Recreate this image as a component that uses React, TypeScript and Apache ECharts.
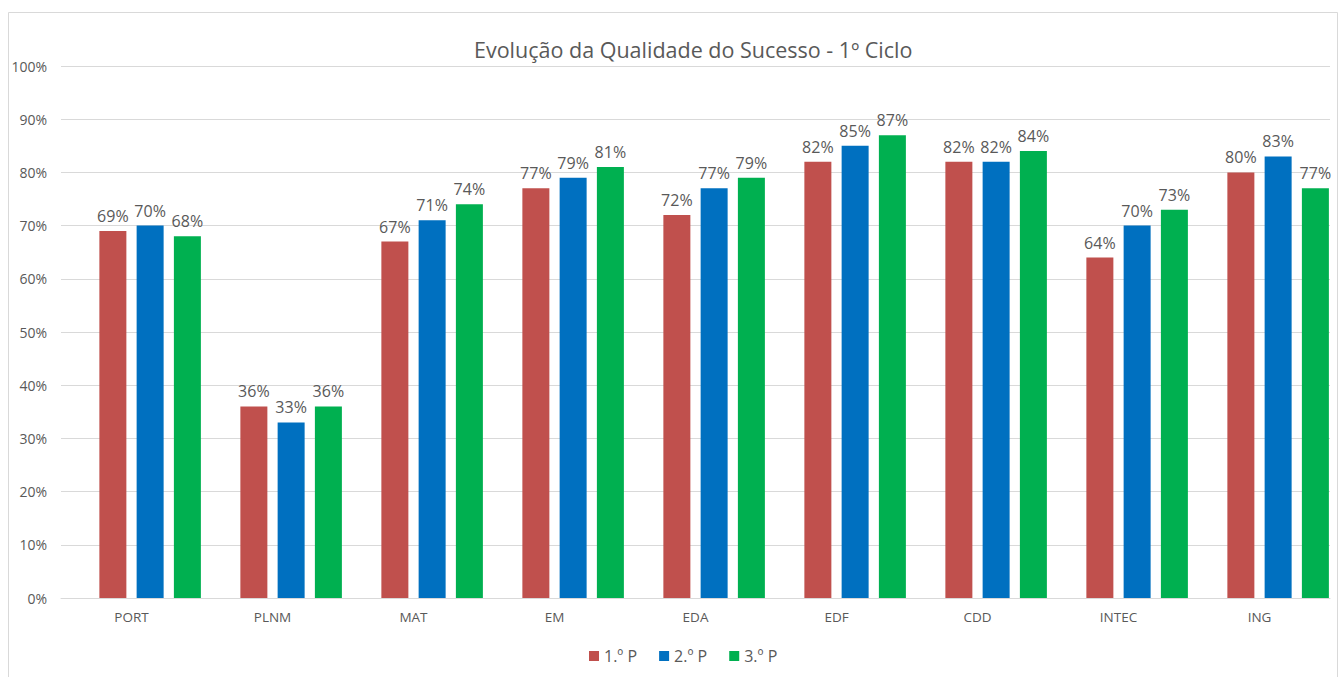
import React, { useEffect, useRef } from "react";
import * as echarts from "echarts";

const categories = ["PORT", "PLNM", "MAT", "EM", "EDA", "EDF", "CDD", "INTEC", "ING"];
const seriesNames = ["1.º P", "2.º P", "3.º P"];
const p1 = [69, 36, 67, 77, 72, 82, 82, 64, 80];
const p2 = [70, 33, 71, 79, 77, 85, 82, 70, 83];
const p3 = [68, 36, 74, 81, 79, 87, 84, 73, 77];
const emptySlot = [null, null, null, null, null, null, null, null, null];
const colors = ["#C0504D", "#0070C0", "#00B050"];
const titleText = "Evolução da Qualidade do Sucesso - 1º Ciclo";

const FONT = "'Open Sans', 'Noto Sans', sans-serif";

export default function App() {
  const ref = useRef<HTMLDivElement>(null);
  useEffect(() => {
    if (!ref.current) return;
    const chart = echarts.init(ref.current, null, { renderer: "svg" });
    const data = [p1, p2, p3];
    const realSeries = seriesNames.map((name, i) => ({
      name,
      type: "bar",
      data: data[i],
      barWidth: 27,
      barGap: "38%",
      itemStyle: { color: colors[i] },
      label: {
        show: true,
        position: "top",
        distance: 7,
        formatter: "{c}%",
        color: "#595959",
        fontSize: 16,
        fontFamily: FONT,
      },
    }));
    chart.setOption({
      animation: false,
      backgroundColor: "#ffffff",
      textStyle: { fontFamily: FONT },
      title: {
        text: titleText,
        left: 469,
        top: 33,
        textStyle: { fontFamily: FONT, fontSize: 21.5, fontWeight: "normal", color: "#595959" },
      },
      graphic: [
        {
          type: "rect",
          shape: { x: 8.5, y: 12.5, width: 1329, height: 700 },
          style: { fill: "none", stroke: "#d9d9d9", lineWidth: 1 },
          silent: true,
        },
      ],
      legend: {
        bottom: 8,
        left: 584,
        itemWidth: 10,
        itemHeight: 10,
        itemGap: 22,
        icon: "rect",
        textStyle: { fontFamily: FONT, fontSize: 16, color: "#595959" },
        data: seriesNames,
      },
      grid: { left: 61, right: 10, top: 66, bottom: 79, containLabel: false },
      xAxis: {
        type: "category",
        data: categories,
        axisLine: { lineStyle: { color: "#d9d9d9" } },
        axisTick: { show: false },
        axisLabel: { color: "#595959", fontSize: 13.5, fontFamily: FONT, margin: 12 },
      },
      yAxis: {
        type: "value",
        min: 0,
        max: 100,
        interval: 10,
        axisLine: { show: false },
        axisTick: { show: false },
        splitLine: { lineStyle: { color: "#d9d9d9" } },
        axisLabel: { color: "#595959", fontSize: 14, fontFamily: FONT, margin: 14, formatter: "{value}%" },
      },
      series: [
        {
          name: "",
          type: "bar",
          data: emptySlot,
          barWidth: 27,
          barGap: "38%",
          silent: true,
          itemStyle: { color: "transparent" },
        },
        ...realSeries,
      ],
    });
    return () => chart.dispose();
  }, []);
  return (
    <div
      ref={ref}
      style={{ position: "fixed", left: 0, top: 0, width: 1340, height: 677 }}
    />
  );
}
